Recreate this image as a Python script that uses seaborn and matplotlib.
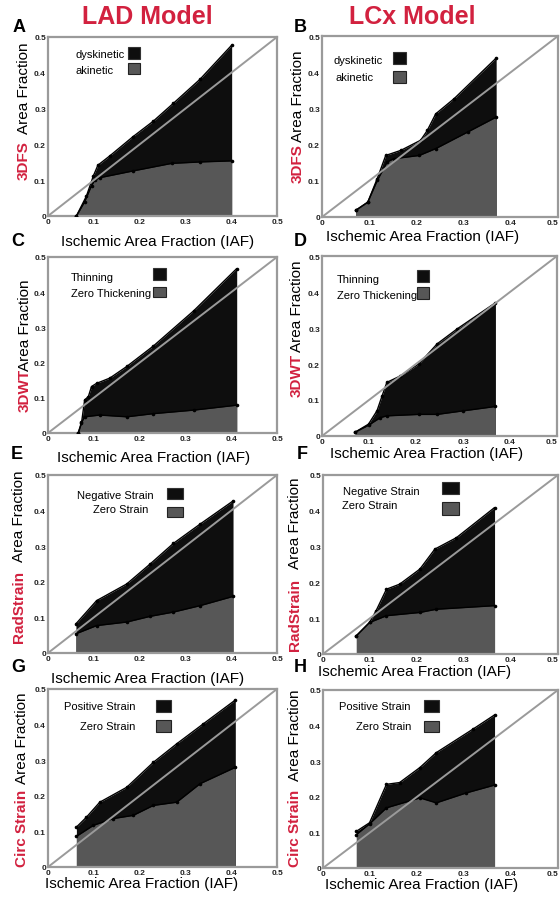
import matplotlib
matplotlib.use("Agg")
import matplotlib.pyplot as plt
import seaborn as sns
import pandas as pd
from matplotlib.patches import Rectangle

sns.set_style("white")
plt.rcParams['font.family'] = ['Liberation Sans', 'DejaVu Sans']

# ---------------- data ----------------
A_up_x = [0.062, 0.084, 0.099, 0.109, 0.135, 0.186, 0.23, 0.274, 0.332, 0.401]
A_up_y = [0.0, 0.056, 0.112, 0.142, 0.168, 0.222, 0.265, 0.315, 0.382, 0.477]
A_lo_x = [0.062, 0.08, 0.095, 0.102, 0.113, 0.186, 0.27, 0.332, 0.401]
A_lo_y = [0.0, 0.04, 0.085, 0.1, 0.107, 0.126, 0.147, 0.151, 0.154]

B_up_x = [0.071, 0.097, 0.117, 0.135, 0.167, 0.209, 0.223, 0.241, 0.28, 0.369]
B_up_y = [0.018, 0.041, 0.106, 0.170, 0.184, 0.212, 0.239, 0.285, 0.327, 0.439]
B_lo_x = [0.071, 0.097, 0.117, 0.138, 0.152, 0.206, 0.241, 0.309, 0.369]
B_lo_y = [0.018, 0.041, 0.101, 0.152, 0.161, 0.170, 0.189, 0.235, 0.276]

C_up_x = [0.066, 0.073, 0.080, 0.088, 0.095, 0.106, 0.135, 0.172, 0.23, 0.318, 0.412]
C_up_y = [0.0, 0.027, 0.094, 0.103, 0.132, 0.141, 0.156, 0.189, 0.247, 0.347, 0.467]
C_lo_x = [0.066, 0.073, 0.08, 0.113, 0.172, 0.23, 0.318, 0.412]
C_lo_y = [0.0, 0.03, 0.046, 0.051, 0.046, 0.055, 0.065, 0.079]

D_up_x = [0.071, 0.099, 0.117, 0.128, 0.138, 0.167, 0.206, 0.245, 0.287, 0.369]
D_up_y = [0.011, 0.033, 0.07, 0.112, 0.149, 0.167, 0.2, 0.256, 0.297, 0.37]
D_lo_x = [0.071, 0.099, 0.124, 0.138, 0.206, 0.245, 0.301, 0.369]
D_lo_y = [0.011, 0.03, 0.051, 0.056, 0.06, 0.06, 0.07, 0.082]

E_up_x = [0.061, 0.106, 0.172, 0.223, 0.274, 0.332, 0.404]
E_up_y = [0.082, 0.147, 0.194, 0.25, 0.308, 0.362, 0.427]
E_lo_x = [0.061, 0.106, 0.172, 0.223, 0.274, 0.332, 0.404]
E_lo_y = [0.054, 0.077, 0.087, 0.103, 0.115, 0.133, 0.159]

F_up_x = [0.071, 0.099, 0.113, 0.135, 0.163, 0.206, 0.238, 0.284, 0.365]
F_up_y = [0.051, 0.088, 0.121, 0.181, 0.195, 0.237, 0.293, 0.325, 0.409]
F_lo_x = [0.071, 0.099, 0.135, 0.206, 0.241, 0.365]
F_lo_y = [0.051, 0.088, 0.107, 0.116, 0.125, 0.135]

G_up_x = [0.062, 0.084, 0.113, 0.172, 0.23, 0.281, 0.339, 0.409]
G_up_y = [0.112, 0.14, 0.182, 0.224, 0.294, 0.346, 0.402, 0.469]
G_lo_x = [0.062, 0.099, 0.142, 0.186, 0.23, 0.281, 0.332, 0.409]
G_lo_y = [0.086, 0.117, 0.136, 0.145, 0.173, 0.182, 0.234, 0.28]

H_up_x = [0.071, 0.099, 0.135, 0.163, 0.206, 0.241, 0.319, 0.365]
H_up_y = [0.103, 0.127, 0.235, 0.24, 0.282, 0.324, 0.39, 0.43]
H_lo_x = [0.071, 0.099, 0.135, 0.206, 0.241, 0.305, 0.365]
H_lo_y = [0.094, 0.124, 0.169, 0.197, 0.183, 0.211, 0.233]

tick_vals = [0, 0.1, 0.2, 0.3, 0.4, 0.5]
tick_labels = ["0", "0.1", "0.2", "0.3", "0.4", "0.5"]

letters = ["A", "B", "C", "D", "E", "F", "G", "H"]
methods = ["3DFS", "3DFS", "3DWT", "3DWT", "RadStrain", "RadStrain", "Circ Strain", "Circ Strain"]
legend_top = ["dyskinetic", "dyskinetic", "Thinning", "Thinning",
              "Negative Strain", "Negative Strain", "Positive Strain", "Positive Strain"]
legend_bot = ["akinetic", "akinetic", "Zero Thickening", "Zero Thickening",
              "Zero Strain", "Zero Strain", "Zero Strain", "Zero Strain"]
col_titles = ["LAD Model", "LCx Model"]

curves = [
    (A_up_x, A_up_y, A_lo_x, A_lo_y), (B_up_x, B_up_y, B_lo_x, B_lo_y),
    (C_up_x, C_up_y, C_lo_x, C_lo_y), (D_up_x, D_up_y, D_lo_x, D_lo_y),
    (E_up_x, E_up_y, E_lo_x, E_lo_y), (F_up_x, F_up_y, F_lo_x, F_lo_y),
    (G_up_x, G_up_y, G_lo_x, G_lo_y), (H_up_x, H_up_y, H_lo_x, H_lo_y),
]

# ---------------- layout (pixels) ----------------
W, H = 560, 904
fig = plt.figure(figsize=(W / 100, H / 100), dpi=100)

def fx(p):
    return p / W

def fy(p):
    return 1 - p / H

# left, right, top, bottom
boxes = [(48, 277, 38, 217), (322, 558, 37, 218),
         (48, 277, 258, 434), (322, 557, 257, 437),
         (48, 277, 476, 654), (323, 558, 476, 655),
         (48, 277, 690, 868), (323, 558, 691, 869)]

ylab_pos = [(24, 88, 161), (298, 96, 164), (25, 325, 390), (297, 306, 375),
            (19, 516, 607), (295, 523, 615), (22, 738, 828), (295, 735, 828)]
xlab_pos = [(158, 242), (423, 237), (154, 458), (427, 454),
            (148, 679), (415, 672), (142, 884), (422, 885)]
letter_pos = [(19, 28), (300, 28), (18, 241), (300, 241),
              (17, 455), (302, 455), (18, 668), (300, 668)]
leg = [
    ((75, 55, 'left'), (75, 71, 'left'), 128, 140, 48, 60, 64, 75),
    ((333, 61, 'left'), (335, 78, 'left'), 393, 406, 53, 65, 72, 84),
    ((71, 278, 'left'), (71, 294, 'left'), 153, 166, 269, 281, 288, 298),
    ((337, 280, 'left'), (337, 296, 'left'), 417, 429, 271, 283, 288, 300),
    ((77, 496, 'left'), (93, 510, 'left'), 167, 183, 489, 500, 508, 518),
    ((343, 492, 'left'), (342, 506, 'left'), 442, 459, 483, 495, 503, 516),
    ((135, 707, 'right'), (135, 727, 'right'), 156, 171, 701, 713, 721, 733),
    ((411, 707, 'right'), (411, 727, 'right'), 424, 439, 701, 713, 722, 733),
]

crimson = "#d2213f"
spine_gray = "#9a9a9a"
black_fill = "#0e0e0e"
gray_fill = "#575757"

for i, (l, r, t, b) in enumerate(boxes):
    ax = fig.add_axes([fx(l), fy(b), fx(r) - fx(l), (b - t) / H])
    ux, uy, lx, ly = curves[i]
    ax.fill_between(ux, 0, uy, color=black_fill, lw=0, zorder=1)
    ax.fill_between(lx, 0, ly, color=gray_fill, lw=0, zorder=2)
    up = pd.DataFrame({"x": ux, "y": uy})
    lo = pd.DataFrame({"x": lx, "y": ly})
    sns.lineplot(data=up, x="x", y="y", ax=ax, color="black", lw=1.0,
                 marker="o", markersize=2.6, markeredgewidth=0, sort=False, zorder=3)
    sns.lineplot(data=lo, x="x", y="y", ax=ax, color="black", lw=1.0,
                 marker="o", markersize=2.6, markeredgewidth=0, sort=False, zorder=3)
    ax.plot([0, 0.5], [0, 0.5], color=spine_gray, lw=1.4, zorder=4)
    ax.set_xlim(0, 0.5)
    ax.set_ylim(0, 0.5)
    ax.set_xticks(tick_vals)
    ax.set_xticklabels(tick_labels)
    ax.set_yticks(tick_vals)
    ax.set_yticklabels(tick_labels)
    ax.tick_params(length=0, labelsize=6, pad=1.5, colors="#222222")
    for lab in ax.get_xticklabels() + ax.get_yticklabels():
        lab.set_fontweight("bold")
    if i % 2 == 1:
        ax.get_xticklabels()[-1].set_horizontalalignment("right")
    ax.set_xlabel("")
    ax.set_ylabel("")
    for s in ax.spines.values():
        s.set_color(spine_gray)
        s.set_linewidth(1.6)
        s.set_visible(True)
    ax.set_facecolor("white")

    yx, yaf, ym = ylab_pos[i]
    fig.text(fx(yx), fy(yaf), "Area Fraction", rotation=90, ha="center", va="center",
             fontsize=11, color="black")
    fig.text(fx(yx), fy(ym), methods[i], rotation=90, ha="center", va="center",
             fontsize=11, color=crimson, fontweight="bold")
    xx, xy = xlab_pos[i]
    fig.text(fx(xx), fy(xy), "Ischemic Area Fraction (IAF)", ha="center", va="center",
             fontsize=11, color="black")
    lx_, ly_ = letter_pos[i]
    fig.text(fx(lx_), fy(ly_), letters[i], ha="center", va="center",
             fontsize=13, fontweight="bold", color="black")
    (t1x, t1y, h1), (t2x, t2y, h2), bx0, bx1, b1y0, b1y1, b2y0, b2y1 = leg[i]
    fig.text(fx(t1x), fy(t1y), legend_top[i], ha=h1, va="center", fontsize=8, color="black")
    fig.text(fx(t2x), fy(t2y), legend_bot[i], ha=h2, va="center", fontsize=8, color="black")
    fig.patches.append(Rectangle((fx(bx0), fy(b1y1)), fx(bx1) - fx(bx0), (b1y1 - b1y0) / H,
                                 transform=fig.transFigure, facecolor=black_fill,
                                 edgecolor="#333333", lw=0.8))
    fig.patches.append(Rectangle((fx(bx0), fy(b2y1)), fx(bx1) - fx(bx0), (b2y1 - b2y0) / H,
                                 transform=fig.transFigure, facecolor=gray_fill,
                                 edgecolor="#222222", lw=0.8))

fig.text(fx(147), fy(17), col_titles[0], ha="center", va="center", fontsize=18,
         fontweight="bold", color=crimson)
fig.text(fx(412), fy(17), col_titles[1], ha="center", va="center", fontsize=18,
         fontweight="bold", color=crimson)

fig.savefig("out.png", dpi=100)
